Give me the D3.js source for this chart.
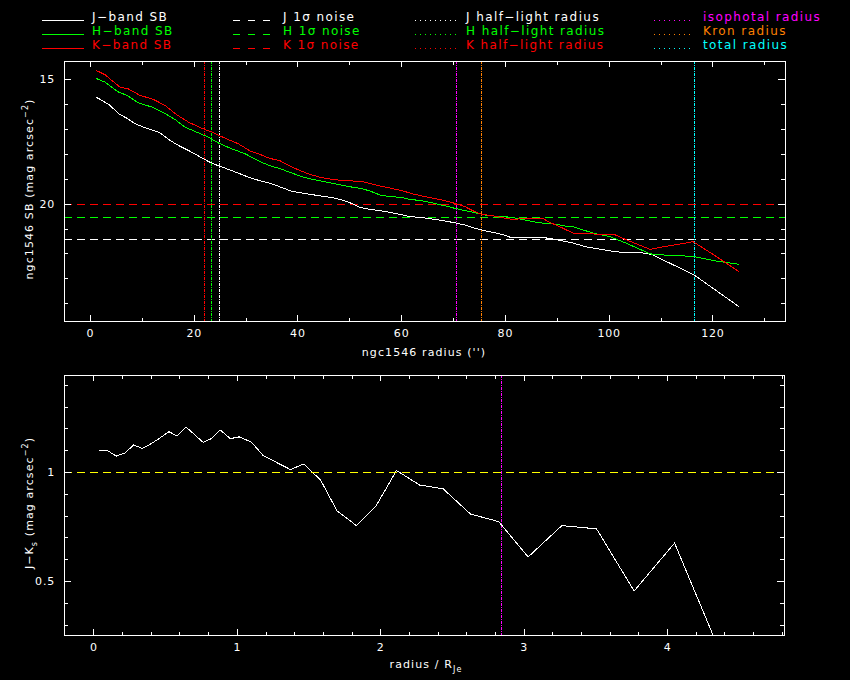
<!DOCTYPE html>
<html>
<head>
<meta charset="utf-8">
<script src="https://cdn.jsdelivr.net/npm/d3@7"></script>
<style>
body { margin: 0; background: #000; }
text { font-family: "DejaVu Sans", sans-serif; fill: #fff; }
line, path, rect { shape-rendering: crispEdges; }
</style>
</head>
<body>
<script>
// surface brightness profiles, radius in arcsec, SB in mag arcsec^-2
const jRad = [1.2, 2.3, 3.9, 5.5, 7.1, 8.7, 10.3, 11.9, 13.5, 15.4, 17.0, 19.0, 20.9, 22.8, 24.7, 26.7, 28.6, 30.5, 32.8, 34.7, 36.6, 38.6, 40.5, 42.4, 44.4, 46.3, 48.2, 50.1, 52.1, 54.0, 55.9, 57.8, 59.8, 61.7, 63.6, 66.5, 68.5, 70.4, 72.3, 74.2, 76.2, 78.1, 80.0, 81.0, 87.7, 90.3, 92.9, 95.5, 100.3, 102.5, 106.1, 108.3, 116.5, 125.1];
const jSB = [15.72, 15.84, 16.05, 16.38, 16.56, 16.78, 16.92, 17.03, 17.15, 17.45, 17.65, 17.86, 18.08, 18.30, 18.47, 18.62, 18.77, 18.93, 19.08, 19.18, 19.32, 19.48, 19.56, 19.62, 19.69, 19.74, 19.83, 19.96, 20.15, 20.23, 20.28, 20.35, 20.43, 20.52, 20.55, 20.63, 20.70, 20.77, 20.86, 20.99, 21.09, 21.17, 21.27, 21.35, 21.37, 21.46, 21.57, 21.73, 21.90, 21.96, 21.97, 22.04, 22.87, 24.14];

const hRad = [1.2, 2.9, 5.5, 7.1, 9.3, 11.9, 14.5, 16.4, 18.3, 20.9, 22.8, 24.7, 27.3, 29.9, 32.8, 34.7, 36.6, 38.6, 40.5, 42.4, 44.4, 46.3, 48.2, 50.1, 52.1, 54.0, 55.9, 57.8, 59.8, 61.7, 63.6, 66.5, 68.5, 70.4, 72.3, 74.2, 76.2, 78.1, 80.0, 82.0, 83.9, 85.8, 87.7, 89.7, 91.6, 93.2, 97.1, 100.3, 103.5, 108.0, 110.2, 114.4, 116.5, 120.8, 125.1];
const hSB = [14.96, 15.11, 15.51, 15.64, 15.94, 16.11, 16.38, 16.61, 16.92, 17.15, 17.32, 17.55, 17.79, 17.99, 18.31, 18.47, 18.59, 18.74, 18.89, 19.00, 19.08, 19.16, 19.24, 19.32, 19.38, 19.49, 19.65, 19.72, 19.74, 19.83, 19.87, 19.99, 20.09, 20.19, 20.28, 20.36, 20.46, 20.50, 20.52, 20.58, 20.66, 20.74, 20.79, 20.82, 20.90, 20.93, 21.19, 21.33, 21.60, 22.02, 22.06, 22.10, 22.13, 22.31, 22.44];

const kRad = [1.2, 2.9, 4.2, 5.8, 7.4, 9.6, 12.2, 14.5, 16.7, 19.0, 21.5, 23.5, 26.0, 28.6, 30.9, 32.8, 34.7, 36.6, 38.6, 40.5, 42.4, 44.4, 46.3, 48.2, 50.1, 52.7, 54.6, 56.6, 58.5, 60.4, 62.3, 64.6, 66.5, 68.5, 70.4, 72.3, 74.2, 75.5, 77.5, 79.4, 81.3, 83.9, 87.4, 88.4, 90.3, 93.2, 97.1, 100.9, 103.5, 108.0, 109.9, 116.3, 120.8, 125.1];
const kSB = [14.64, 14.81, 15.04, 15.31, 15.38, 15.64, 15.80, 16.05, 16.42, 16.72, 16.96, 17.12, 17.36, 17.59, 17.88, 18.02, 18.18, 18.27, 18.49, 18.67, 18.82, 18.94, 19.01, 19.06, 19.08, 19.12, 19.22, 19.32, 19.40, 19.49, 19.61, 19.72, 19.79, 19.88, 19.99, 20.12, 20.32, 20.43, 20.48, 20.56, 20.63, 20.60, 20.60, 20.73, 20.90, 21.19, 21.22, 21.22, 21.46, 21.84, 21.76, 21.53, 22.13, 22.73];

// 1 sigma noise levels (J, H, K)
const noiseLevels = [21.42, 20.53, 20.0];
// half-light radii (J, H, K), then isophotal, Kron, total radius
const halfLight = [24.9, 23.4, 22.0];
const otherRadii = [70.6, 75.3, 116.5];

// J-Ks colour profile, radius in units of R_Je
const jkRad = [0.037, 0.098, 0.160, 0.220, 0.281, 0.342, 0.403, 0.464, 0.526, 0.584, 0.647, 0.765, 0.823, 0.884, 0.955, 1.016, 1.102, 1.183, 1.276, 1.374, 1.467, 1.585, 1.699, 1.834, 1.969, 2.113, 2.275, 2.438, 2.629, 2.826, 3.031, 3.266, 3.508, 3.770, 4.052, 4.34];
const jkCol = [1.098, 1.098, 1.073, 1.087, 1.124, 1.108, 1.130, 1.156, 1.185, 1.165, 1.206, 1.136, 1.153, 1.193, 1.153, 1.161, 1.137, 1.076, 1.044, 1.011, 1.037, 0.962, 0.821, 0.754, 0.842, 1.007, 0.940, 0.923, 0.807, 0.772, 0.610, 0.754, 0.739, 0.454, 0.674, 0.22];
const isoRadJe = 2.842;
const jkRef = 1;

const topXMajor = [0, 20, 40, 60, 80, 100, 120];
const topXMinor = [10, 30, 50, 70, 90, 110, 130];
const topYMajor = [15, 20];
const topYMinor = [16, 17, 18, 19, 21, 22, 23, 24];
const botXMajor = [0, 1, 2, 3, 4];
const botXMinor = [0.2, 0.4, 0.6, 0.8, 1.2, 1.4, 1.6, 1.8, 2.2, 2.4, 2.6, 2.8, 3.2, 3.4, 3.6, 3.8, 4.2, 4.4, 4.6, 4.8];
const botYMajor = [0.5, 1];
const botYMinor = [0.3, 0.4, 0.6, 0.7, 0.8, 0.9, 1.1, 1.2, 1.3, 1.4];

const bandColors = ["#ffffff", "#00ff00", "#ff0000"];
const radColors = ["#ff00ff", "#ff8000", "#00ffff"];

const svg = d3.select("body").append("svg")
    .attr("width", 850)
    .attr("height", 680)
    .style("background", "#000");

// snap a straight line to the pixel grid
const px = v => Math.round(v) + 0.5;

function draw_frame(g, x, y, box, xMaj, xMin, yMaj, yMin, fmt) {
    let axes = [
        [d3.axisBottom(x).tickValues(xMaj).tickSize(-6).tickPadding(8).tickFormat(fmt), `translate(0,${box.b})`],
        [d3.axisBottom(x).tickValues(xMin).tickSize(-3.5).tickFormat(""), `translate(0,${box.b})`],
        [d3.axisTop(x).tickValues(xMaj).tickSize(-6).tickFormat(""), `translate(0,${box.t})`],
        [d3.axisTop(x).tickValues(xMin).tickSize(-3.5).tickFormat(""), `translate(0,${box.t})`],
        [d3.axisLeft(y).tickValues(yMaj).tickSize(-7).tickPadding(9).tickFormat(fmt), `translate(${box.l},0)`],
        [d3.axisLeft(y).tickValues(yMin).tickSize(-4).tickFormat(""), `translate(${box.l},0)`],
        [d3.axisRight(y).tickValues(yMaj).tickSize(-7).tickFormat(""), `translate(${box.r},0)`],
        [d3.axisRight(y).tickValues(yMin).tickSize(-4).tickFormat(""), `translate(${box.r},0)`]
    ];
    for (let a of axes) {
        let ag = g.append("g").attr("transform", a[1]).call(a[0]);
        ag.select(".domain").remove();
        ag.selectAll("line").attr("stroke", "#fff");
        ag.selectAll("text").attr("font-size", 11).attr("fill", "#fff")
            .style("font-family", "DejaVu Sans").attr("letter-spacing", 0.8);
    }
    g.append("rect")
        .attr("x", box.l).attr("y", box.t)
        .attr("width", box.r - box.l).attr("height", box.b - box.t)
        .attr("fill", "none").attr("stroke", "#fff");
}

function clip(id, box) {
    svg.append("clipPath").attr("id", id).append("rect")
        .attr("x", box.l).attr("y", box.t)
        .attr("width", box.r - box.l).attr("height", box.b - box.t);
}

const fmt = d => String(d);
const dotted = "3,1,1,1";

// ---- top panel: SB profiles
const tb = {l: 64, r: 785, t: 61, b: 321};
const x1 = d3.scaleLinear().domain([-5, 134]).range([tb.l, tb.r]);
const y1 = d3.scaleLinear().domain([14.26, 24.72]).range([tb.t, tb.b]);
clip("clipTop", tb);

const gTop = svg.append("g");
const gTopData = gTop.append("g").attr("clip-path", "url(#clipTop)");

noiseLevels.forEach((v, i) => {
    gTopData.append("line")
        .attr("x1", tb.l).attr("x2", tb.r)
        .attr("y1", px(y1(v))).attr("y2", px(y1(v)))
        .attr("stroke", bandColors[i]).attr("stroke-dasharray", "8,5");
});
halfLight.forEach((v, i) => {
    gTopData.append("line")
        .attr("x1", px(x1(v))).attr("x2", px(x1(v)))
        .attr("y1", tb.t).attr("y2", tb.b)
        .attr("stroke", bandColors[i]).attr("stroke-dasharray", dotted);
});
otherRadii.forEach((v, i) => {
    gTopData.append("line")
        .attr("x1", px(x1(v))).attr("x2", px(x1(v)))
        .attr("y1", tb.t).attr("y2", tb.b)
        .attr("stroke", radColors[i]).attr("stroke-dasharray", dotted);
});

const line1 = d3.line().x(d => x1(d[0])).y(d => y1(d[1]));
[[jRad, jSB], [hRad, hSB], [kRad, kSB]].forEach((s, i) => {
    gTopData.append("path")
        .datum(d3.zip(s[0], s[1]))
        .attr("d", line1)
        .attr("fill", "none")
        .attr("stroke", bandColors[i])
        .attr("stroke-width", 1);
});

draw_frame(gTop, x1, y1, tb, topXMajor, topXMinor, topYMajor, topYMinor, fmt);

gTop.append("text")
    .attr("x", 424).attr("y", 356)
    .attr("text-anchor", "middle").attr("font-size", 11).attr("letter-spacing", 1.1)
    .text("ngc1546 radius ('')");

let yl1 = gTop.append("text")
    .attr("transform", "translate(33,189) rotate(-90)")
    .attr("text-anchor", "middle").attr("font-size", 11).attr("letter-spacing", 1.1);
yl1.append("tspan").text("ngc1546 SB (mag arcsec");
yl1.append("tspan").attr("dy", -5).attr("font-size", 8).text("−2");
yl1.append("tspan").attr("dy", 5).text(")");

// ---- bottom panel: J-Ks colour
const bb = {l: 64, r: 784, t: 375, b: 635};
const x2 = d3.scaleLinear().domain([-0.205, 4.815]).range([bb.l, bb.r]);
const y2 = d3.scaleLinear().domain([0.252, 1.445]).range([bb.b, bb.t]);
clip("clipBot", bb);

const gBot = svg.append("g");
const gBotData = gBot.append("g").attr("clip-path", "url(#clipBot)");

gBotData.append("line")
    .attr("x1", px(x2(isoRadJe))).attr("x2", px(x2(isoRadJe)))
    .attr("y1", bb.t).attr("y2", bb.b)
    .attr("stroke", radColors[0]).attr("stroke-dasharray", dotted);

gBotData.append("path")
    .datum(d3.zip(jkRad, jkCol))
    .attr("d", d3.line().x(d => x2(d[0])).y(d => y2(d[1])))
    .attr("fill", "none").attr("stroke", "#fff");

gBotData.append("line")
    .attr("x1", bb.l).attr("x2", bb.r)
    .attr("y1", px(y2(jkRef))).attr("y2", px(y2(jkRef)))
    .attr("stroke", "#ffff00").attr("stroke-dasharray", "8,5");

draw_frame(gBot, x2, y2, bb, botXMajor, botXMinor, botYMajor, botYMinor, fmt);

let xl2 = gBot.append("text")
    .attr("x", 426).attr("y", 668)
    .attr("text-anchor", "middle").attr("font-size", 11).attr("letter-spacing", 1.1);
xl2.append("tspan").text("radius / R");
xl2.append("tspan").attr("dy", 4).attr("font-size", 8).text("Je");

let yl2 = gBot.append("text")
    .attr("transform", "translate(33,503) rotate(-90)")
    .attr("text-anchor", "middle").attr("font-size", 11).attr("letter-spacing", 1.1);
yl2.append("tspan").text("J−K");
yl2.append("tspan").attr("dy", 4).attr("font-size", 8).text("s");
yl2.append("tspan").attr("dy", -4).text(" (mag arcsec");
yl2.append("tspan").attr("dy", -5).attr("font-size", 8).text("−2");
yl2.append("tspan").attr("dy", 5).text(")");

// ---- legend
const legendCols = [
    {x0: 42, x1: 84, tx: 92, dash: null, labels: ["J−band SB", "H−band SB", "K−band SB"], colors: bandColors},
    {x0: 233, x1: 277, tx: 283, dash: "7,8", labels: ["J 1σ noise", "H 1σ noise", "K 1σ noise"], colors: bandColors},
    {x0: 415, x1: 457, tx: 466, dash: "1,4", labels: ["J half−light radius", "H half−light radius", "K half−light radius"], colors: bandColors},
    {x0: 654, x1: 694, tx: 703, dash: "1,4", labels: ["isophotal radius", "Kron radius", "total radius"], colors: radColors}
];
const rowY = [21, 35, 49];
const gLeg = svg.append("g");
for (let c of legendCols) {
    c.labels.forEach((lab, i) => {
        let ln = gLeg.append("line")
            .attr("x1", c.x0).attr("x2", c.x1)
            .attr("y1", rowY[i] - 0.5).attr("y2", rowY[i] - 0.5)
            .attr("stroke", c.colors[i]);
        if (c.dash) ln.attr("stroke-dasharray", c.dash);
        gLeg.append("text")
            .attr("x", c.tx).attr("y", rowY[i])
            .attr("font-size", 12).attr("letter-spacing", 1.4)
            .style("fill", c.colors[i])
            .text(lab);
    });
}
</script>
</body>
</html>
